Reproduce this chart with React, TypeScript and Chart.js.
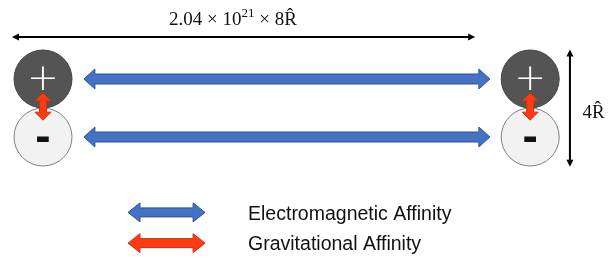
import { useEffect, useRef } from "react";
import { Chart, registerables } from "chart.js";

Chart.register(...registerables);

// Diagram coordinates, in units of R̂ (origin: midway between the left pair)
const particleX = [0, 16.8];
const positiveY = [1, 1];
const negativeY = [-1, -1];
const chargeLabels = ["+", "-"];
const emArrowX = [1.41, 15.41];
const emArrowY = [1, -1];
const gravArrowY = [0.52, -0.42];
const spanArrowX = [-1.07, 14.9];
const spanArrowY = [2.45];
const heightArrowX = [18.17];
const heightArrowY = [2.02, -2.03];
const spanLabelPos = [6.55, 2.86];
const heightLabelPos = [18.6, -0.34];
const spanLabelParts = ["2.04 × 10", "21", " × 8R\u0302"];
const heightLabel = "4R\u0302";
const legendArrowX = [2.93, 5.59];
const legendArrowY = [-3.6, -4.66];
const legendTextX = [7.07];
const legendTextY = [-3.86, -4.9];
const legendLabels = ["Electromagnetic Affinity", "Gravitational Affinity"];

const X_MIN = -43 / 29;
const X_MAX = (616 - 43) / 29;
const Y_MIN = -(262 - 108) / 29;
const Y_MAX = 108 / 29;

const BLUE = "#4472C4";
const BLUE_EDGE = "#2F528F";
const RED = "#FF3A10";
const RED_EDGE = "#C0391E";

function fatArrow(
  ctx: CanvasRenderingContext2D,
  x1: number, y1: number, x2: number, y2: number,
  shaft: number, head: number, headLen: number,
  fill: string, edge: string
) {
  const dx = x2 - x1, dy = y2 - y1;
  const len = Math.hypot(dx, dy);
  const ux = dx / len, uy = dy / len;
  const nx = -uy, ny = ux;
  const pts: [number, number][] = [];
  const P = (a: number, n: number): [number, number] => [x1 + ux * a + nx * n, y1 + uy * a + ny * n];
  pts.push(P(0, 0));
  pts.push(P(headLen, head));
  pts.push(P(headLen, shaft));
  pts.push(P(len - headLen, shaft));
  pts.push(P(len - headLen, head));
  pts.push(P(len, 0));
  pts.push(P(len - headLen, -head));
  pts.push(P(len - headLen, -shaft));
  pts.push(P(headLen, -shaft));
  pts.push(P(headLen, -head));
  ctx.beginPath();
  ctx.moveTo(pts[0][0], pts[0][1]);
  for (let i = 1; i < pts.length; i++) ctx.lineTo(pts[i][0], pts[i][1]);
  ctx.closePath();
  ctx.fillStyle = fill;
  ctx.fill();
  ctx.lineWidth = 1;
  ctx.strokeStyle = edge;
  ctx.stroke();
}

function thinArrow(
  ctx: CanvasRenderingContext2D,
  x1: number, y1: number, x2: number, y2: number
) {
  const dx = x2 - x1, dy = y2 - y1;
  const len = Math.hypot(dx, dy);
  const ux = dx / len, uy = dy / len;
  const nx = -uy, ny = ux;
  const hl = 7, hw = 3.5;
  ctx.strokeStyle = "#000";
  ctx.fillStyle = "#000";
  ctx.lineWidth = 2;
  ctx.beginPath();
  ctx.moveTo(x1 + ux * 4, y1 + uy * 4);
  ctx.lineTo(x2 - ux * 4, y2 - uy * 4);
  ctx.stroke();
  const tri = (tx: number, ty: number, sx: number, sy: number) => {
    ctx.beginPath();
    ctx.moveTo(tx, ty);
    ctx.lineTo(tx + sx * hl + nx * hw, ty + sy * hl + ny * hw);
    ctx.lineTo(tx + sx * hl - nx * hw, ty + sy * hl - ny * hw);
    ctx.closePath();
    ctx.fill();
  };
  tri(x1, y1, ux, uy);
  tri(x2, y2, -ux, -uy);
}

const diagramPlugin = {
  id: "diagram",
  afterDatasetsDraw(chart: any) {
    const ctx: CanvasRenderingContext2D = chart.ctx;
    const sx = chart.scales.x, sy = chart.scales.y;
    const X = (v: number) => sx.getPixelForValue(v);
    const Y = (v: number) => sy.getPixelForValue(v);
    ctx.save();

    // charge signs
    ctx.textAlign = "center";
    ctx.textBaseline = "middle";
    particleX.forEach((px) => {
      ctx.fillStyle = "#ffffff";
      ctx.font = "200 38px 'DejaVu Sans'";
      ctx.fillText(chargeLabels[0], X(px), Y(positiveY[0]) + 1);
      ctx.fillStyle = "#111111";
      ctx.font = "bold 46px 'Liberation Sans'";
      ctx.fillText(chargeLabels[1], X(px), Y(negativeY[0]) + 1);
    });

    // electromagnetic arrows
    emArrowY.forEach((ey) => {
      fatArrow(ctx, X(emArrowX[0]), Y(ey), X(emArrowX[1]), Y(ey), 5, 10, 11, BLUE, BLUE_EDGE);
    });
    // gravitational arrows
    particleX.forEach((px) => {
      fatArrow(ctx, X(px), Y(gravArrowY[0]), X(px), Y(gravArrowY[1]), 3.5, 8, 8, RED, RED_EDGE);
    });

    // dimension arrows
    thinArrow(ctx, X(spanArrowX[0]), Y(spanArrowY[0]), X(spanArrowX[1]), Y(spanArrowY[0]));
    thinArrow(ctx, X(heightArrowX[0]), Y(heightArrowY[0]), X(heightArrowX[0]), Y(heightArrowY[1]));

    // span label with superscript
    ctx.fillStyle = "#111111";
    ctx.textBaseline = "alphabetic";
    ctx.textAlign = "left";
    const mainFont = "19px 'Liberation Serif'";
    const supFont = "13px 'Liberation Serif'";
    ctx.font = mainFont;
    const w1 = ctx.measureText(spanLabelParts[0]).width;
    const w3 = ctx.measureText(spanLabelParts[2]).width;
    ctx.font = supFont;
    const w2 = ctx.measureText(spanLabelParts[1]).width;
    let lx = X(spanLabelPos[0]) - (w1 + w2 + w3) / 2;
    const ly = Y(spanLabelPos[1]);
    ctx.font = mainFont;
    ctx.fillText(spanLabelParts[0], lx, ly);
    lx += w1;
    ctx.font = supFont;
    ctx.fillText(spanLabelParts[1], lx, ly - 8);
    lx += w2;
    ctx.font = mainFont;
    ctx.fillText(spanLabelParts[2], lx, ly);

    // height label
    ctx.fillText(heightLabel, X(heightLabelPos[0]), Y(heightLabelPos[1]));

    // legend
    const legendColors = [[BLUE, BLUE_EDGE], [RED, RED_EDGE]];
    legendArrowY.forEach((ly2, i) => {
      fatArrow(ctx, X(legendArrowX[0]), Y(ly2), X(legendArrowX[1]), Y(ly2), 4.5, 9.5, 12, legendColors[i][0], legendColors[i][1]);
    });
    ctx.fillStyle = "#111111";
    ctx.font = "19.5px 'Liberation Sans'";
    ctx.textAlign = "left";
    ctx.textBaseline = "alphabetic";
    legendLabels.forEach((t, i) => {
      ctx.fillText(t, X(legendTextX[0]), Y(legendTextY[i]));
    });

    ctx.restore();
  },
};

export default function App() {
  const ref = useRef<HTMLCanvasElement | null>(null);
  useEffect(() => {
    if (!ref.current) return;
    const radius = (c: any) => {
      const s = c.chart.scales.y;
      return s ? Math.abs(s.getPixelForValue(0) - s.getPixelForValue(1)) : 29;
    };
    const chart = new Chart(ref.current, {
      type: "scatter",
      data: {
        datasets: [
          {
            label: "positive",
            data: particleX.map((x, i) => ({ x, y: positiveY[i] })),
            backgroundColor: "#545454",
            borderColor: "#444444",
            borderWidth: 1,
            pointRadius: radius,
            pointHoverRadius: radius,
          },
          {
            label: "negative",
            data: particleX.map((x, i) => ({ x, y: negativeY[i] })),
            backgroundColor: "#f2f2f2",
            borderColor: "#7f7f7f",
            borderWidth: 1,
            pointRadius: radius,
            pointHoverRadius: radius,
          },
        ],
      },
      options: {
        animation: false,
        responsive: false,
        events: [],
        layout: { padding: 0 },
        plugins: { legend: { display: false }, tooltip: { enabled: false } },
        scales: {
          x: { type: "linear", min: X_MIN, max: X_MAX, display: false },
          y: { type: "linear", min: Y_MIN, max: Y_MAX, display: false },
        },
      },
      plugins: [diagramPlugin],
    });
    return () => chart.destroy();
  }, []);
  return (
    <div style={{ position: "fixed", left: 0, top: 0, width: 616, height: 262, background: "#fff" }}>
      <canvas ref={ref} width={616} height={262} style={{ width: 616, height: 262 }} />
    </div>
  );
}
